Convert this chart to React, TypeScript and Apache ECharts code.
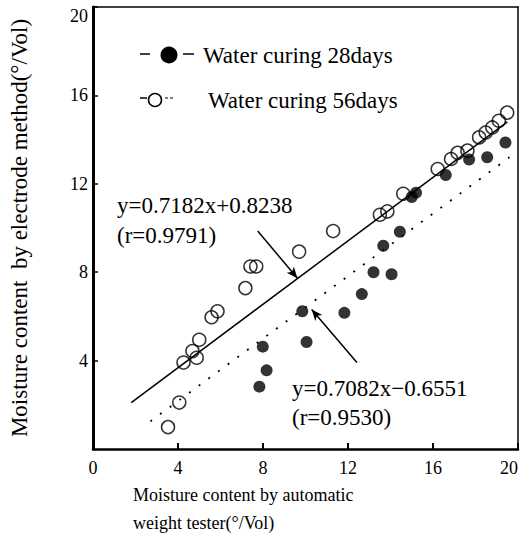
import React, { useEffect, useRef } from "react";
import * as echarts from "echarts";

// Water curing 28 days (filled circles): [automatic weight tester, electrode method]
const curing28: number[][] = [
  [7.83, 2.82], [8.17, 3.56], [7.99, 4.63], [10.05, 4.84], [9.85, 6.23],
  [11.83, 6.16], [12.65, 7.01], [13.2, 8.0], [14.05, 7.91], [13.66, 9.2],
  [14.44, 9.83], [15.0, 11.4], [15.2, 11.6], [16.6, 12.4], [17.7, 13.1],
  [18.55, 13.2], [19.41, 13.87],
];

// Water curing 56 days (open circles)
const curing56: number[][] = [
  [3.53, 0.99], [4.06, 2.1], [4.26, 3.91], [4.88, 4.13], [4.68, 4.43],
  [5.0, 4.94], [5.58, 5.96], [5.86, 6.23], [7.17, 7.28], [7.41, 8.26],
  [7.68, 8.26], [9.7, 8.93], [11.3, 9.86], [13.5, 10.6], [13.85, 10.75],
  [14.6, 11.55], [16.22, 12.67], [16.85, 13.12], [17.16, 13.4], [17.62, 13.5],
  [18.17, 14.1], [18.48, 14.32], [18.79, 14.55], [19.1, 14.85], [19.49, 15.22],
];

// Regression line end points
const fit56Line: number[][] = [[1.8, 2.1], [19.5, 14.8]];
const fit28Line: number[][] = [[2.7, 1.25], [19.6, 13.2]];

// Arrow pointers (from, to)
const arrow56: number[][] = [[7.75, 9.86], [9.62, 7.73]];
const arrow28: number[][] = [[12.42, 3.91], [10.29, 6.31]];

const legendLabels = ["Water curing 28days", "Water curing 56days"];
const eq56 = ["y=0.7182x+0.8238", "(r=0.9791)"];
const eq28 = ["y=0.7082x\u22120.6551", "(r=0.9530)"];
const xTitle = ["Moisture content by automatic", "weight tester(\u00b0/Vol)"];
const yTitle = "Moisture content  by electrode method(\u00b0/Vol)";

const FONT = "'Liberation Serif', 'DejaVu Serif', serif";

function arrowMarkLine(a: number[][]) {
  return {
    silent: true,
    lineStyle: { color: "#000", width: 1.5, type: "solid" },
    label: { show: false },
    data: [[
      { coord: a[0], symbol: "none" },
      { coord: a[1], symbol: "arrow", symbolSize: [7, 11] },
    ]],
  };
}

export default function App() {
  const ref = useRef<HTMLDivElement>(null);
  useEffect(() => {
    document.body.style.margin = "0";
    if (!ref.current) return;
    const chart = echarts.init(ref.current, null, { renderer: "svg" });
    const axisText = { color: "#000", fontFamily: FONT, fontSize: 18 };
    const txt = (x: number, y: number, text: string, size: number) => ({
      type: "text", x, y,
      style: { text, font: `${size}px ${FONT}`, fill: "#000", textVerticalAlign: "middle" },
    });
    const option: any = {
      animation: false,
      backgroundColor: "#fff",
      grid: { left: 92, right: 2, top: 7, bottom: 86 },
      xAxis: [
        {
          type: "value", min: 0, max: 20, interval: 4,
          axisLine: { lineStyle: { color: "#000", width: 2.5 } },
          axisTick: { inside: true, length: 6, lineStyle: { color: "#000", width: 2 } },
          axisLabel: { ...axisText, margin: 10, alignMaxLabel: "right" },
          splitLine: { show: false },
        },
        {
          type: "value", min: 0, max: 20, position: "top",
          axisLine: { show: true, onZero: false, lineStyle: { color: "#000", width: 1.5 } },
          axisTick: { show: false }, axisLabel: { show: false }, splitLine: { show: false },
        },
      ],
      yAxis: [
        {
          type: "value", min: 0, max: 20, interval: 4,
          name: yTitle, nameLocation: "middle", nameGap: 62,
          nameTextStyle: { color: "#000", fontFamily: FONT, fontSize: 23 },
          axisLine: { show: true, lineStyle: { color: "#000", width: 3 } },
          axisTick: { show: true, inside: true, length: 5, lineStyle: { color: "#000", width: 1.5 } },
          axisLabel: { ...axisText, margin: 5, showMinLabel: false, verticalAlignMaxLabel: "top" },
          splitLine: { show: false },
        },
        {
          type: "value", min: 0, max: 20, position: "right",
          axisLine: { show: true, onZero: false, lineStyle: { color: "#000", width: 1.5 } },
          axisTick: { show: false }, axisLabel: { show: false }, splitLine: { show: false },
        },
      ],
      series: [
        {
          name: "fit56", type: "line", data: fit56Line, symbol: "none",
          lineStyle: { color: "#000", width: 1.5 }, z: 2,
          markLine: arrowMarkLine(arrow56),
        },
        {
          name: "fit28", type: "line", data: fit28Line, symbol: "none",
          lineStyle: { color: "#000", width: 1.8, type: [2, 10] }, z: 2,
          markLine: arrowMarkLine(arrow28),
        },
        {
          name: legendLabels[0], type: "scatter", data: curing28, symbol: "circle", symbolSize: 12,
          itemStyle: { color: "#000" }, z: 3,
        },
        {
          name: legendLabels[1], type: "scatter", data: curing56, symbol: "circle", symbolSize: 13,
          itemStyle: { color: "none", borderColor: "#000", borderWidth: 1.5 }, z: 4,
        },
      ],
      graphic: [
        // legend row 1
        { type: "line", shape: { x1: 140, y1: 54, x2: 150, y2: 54 }, style: { stroke: "#000", lineWidth: 1.5 } },
        { type: "circle", shape: { cx: 169, cy: 55, r: 8.5 }, style: { fill: "#000" } },
        { type: "line", shape: { x1: 183, y1: 54, x2: 194, y2: 54 }, style: { stroke: "#000", lineWidth: 1.5 } },
        txt(203, 55, legendLabels[0], 23),
        // legend row 2
        { type: "line", shape: { x1: 140, y1: 98, x2: 147, y2: 98 }, style: { stroke: "#000", lineWidth: 1.5 } },
        { type: "circle", shape: { cx: 155, cy: 100, r: 6.5 }, style: { fill: "none", stroke: "#000", lineWidth: 1.5 } },
        { type: "line", shape: { x1: 165, y1: 98, x2: 174, y2: 98 }, style: { stroke: "#000", lineWidth: 1.2, lineDash: [3, 2] } },
        txt(208, 100, legendLabels[1], 23),
        // equations
        txt(117, 205, eq56[0], 23),
        txt(117, 235, eq56[1], 23),
        txt(292, 388, eq28[0], 23),
        txt(292, 417, eq28[1], 23),
        // x-axis title
        txt(133, 495, xTitle[0], 18),
        txt(133, 523, xTitle[1], 18),
      ],
    };
    chart.setOption(option);
    return () => chart.dispose();
  }, []);
  return <div ref={ref} style={{ width: 521, height: 535 }} />;
}
